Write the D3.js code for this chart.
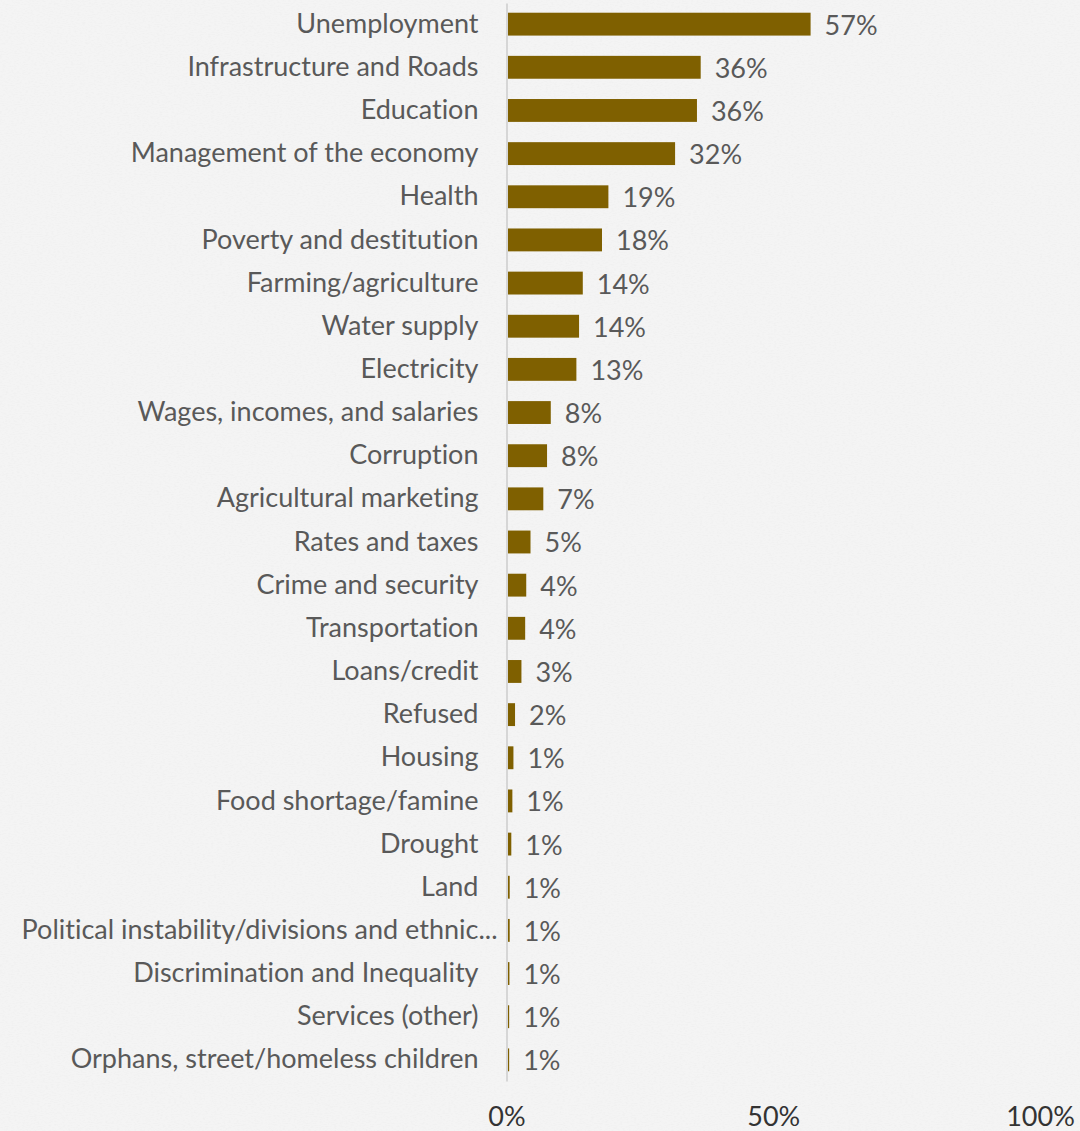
<!DOCTYPE html>
<html>
<head>
<meta charset="utf-8">
<script src="https://cdn.jsdelivr.net/npm/d3@7"></script>
<style>
  html, body { margin: 0; padding: 0; background: #f3f3f3; }
  svg { display: block; }
  text { font-variant-ligatures: none; }
</style>
</head>
<body>
<svg id="chart" width="1080" height="1131"></svg>
<script>
// Most important problems facing the country (share of respondents)
const categories = [
  "Unemployment",
  "Infrastructure and Roads",
  "Education",
  "Management of the economy",
  "Health",
  "Poverty and destitution",
  "Farming/agriculture",
  "Water supply",
  "Electricity",
  "Wages, incomes, and salaries",
  "Corruption",
  "Agricultural marketing",
  "Rates and taxes",
  "Crime and security",
  "Transportation",
  "Loans/credit",
  "Refused",
  "Housing",
  "Food shortage/famine",
  "Drought",
  "Land",
  "Political instability/divisions and ethnic...",
  "Discrimination and Inequality",
  "Services (other)",
  "Orphans, street/homeless children"
];
const shares = [
  0.570, 0.364, 0.357, 0.316, 0.191, 0.179, 0.143, 0.136, 0.131,
  0.083, 0.076, 0.069, 0.045, 0.037, 0.035, 0.028, 0.016, 0.013,
  0.011, 0.009, 0.006, 0.006, 0.0055, 0.005, 0.005
];
const xTicks = [0, 0.5, 1];

const data = categories.map((c, i) => ({ category: c, value: shares[i] }));

const svg = d3.select("#chart");
const W = 1080, H = 1131;
const axisX = 506.5, plotRight = 1040, plotTop = 3, plotBottom = 1081;

// paper-like background
const defs = svg.append("defs");
const grain = defs.append("filter").attr("id", "grain")
  .attr("x", 0).attr("y", 0).attr("width", "100%").attr("height", "100%");
grain.append("feTurbulence").attr("type", "fractalNoise")
  .attr("baseFrequency", "0.35 0.9").attr("numOctaves", 2).attr("seed", 7);
grain.append("feColorMatrix").attr("type", "matrix")
  .attr("values", "0 0 0 0 0.55  0 0 0 0 0.55  0 0 0 0 0.55  0 0 0 -1.6 0.9");
svg.append("rect").attr("width", W).attr("height", H).attr("fill", "#f4f4f4");
svg.append("rect").attr("width", W).attr("height", H)
  .attr("filter", "url(#grain)").attr("opacity", 0.12);

const x = d3.scaleLinear().domain([0, 1]).range([axisX, plotRight]);
const y = d3.scaleBand().domain(categories).range([plotTop, plotBottom])
  .paddingInner(0.47).paddingOuter(0.225);

const font = "Lato, 'Open Sans', sans-serif";
const fontSize = 27;
const pct = d3.format(".0%");

// bars
svg.append("g").selectAll("rect").data(data).join("rect")
  .attr("x", x(0) + 0.5)
  .attr("y", d => y(d.category))
  .attr("width", d => Math.max(0, x(d.value) - x(0) - 0.5))
  .attr("height", y.bandwidth())
  .attr("fill", "#7f6000");

// category axis
const yAxis = svg.append("g")
  .attr("transform", `translate(${axisX},0)`)
  .call(d3.axisLeft(y).tickSize(0).tickPadding(28));
yAxis.select(".domain").attr("stroke", "#d6d6d6").attr("stroke-width", 2);
yAxis.selectAll("text")
  .attr("fill", "#595959")
  .style("font-family", font)
  .style("font-size", fontSize + "px")
  // truncated labels let their trailing dots run into the gap
  .attr("dx", d => d.endsWith("...") ? 19 : 0);

// value axis labels
const xAxis = svg.append("g")
  .attr("transform", `translate(0,${plotBottom})`)
  .call(d3.axisBottom(x).tickValues(xTicks).tickFormat(pct).tickSize(0).tickPadding(26));
xAxis.select(".domain").remove();
xAxis.selectAll("text")
  .attr("fill", "#333333")
  .style("font-family", font)
  .style("font-size", fontSize + "px");

// data labels
svg.append("g").selectAll("text").data(data).join("text")
  .attr("x", d => x(d.value) + 14)
  .attr("y", d => y(d.category) + y.bandwidth() / 2 + 1)
  .attr("dy", "0.35em")
  .attr("fill", "#595959")
  .style("font-family", font)
  .style("font-size", fontSize + "px")
  .text(d => pct(d.value));
</script>
</body>
</html>
